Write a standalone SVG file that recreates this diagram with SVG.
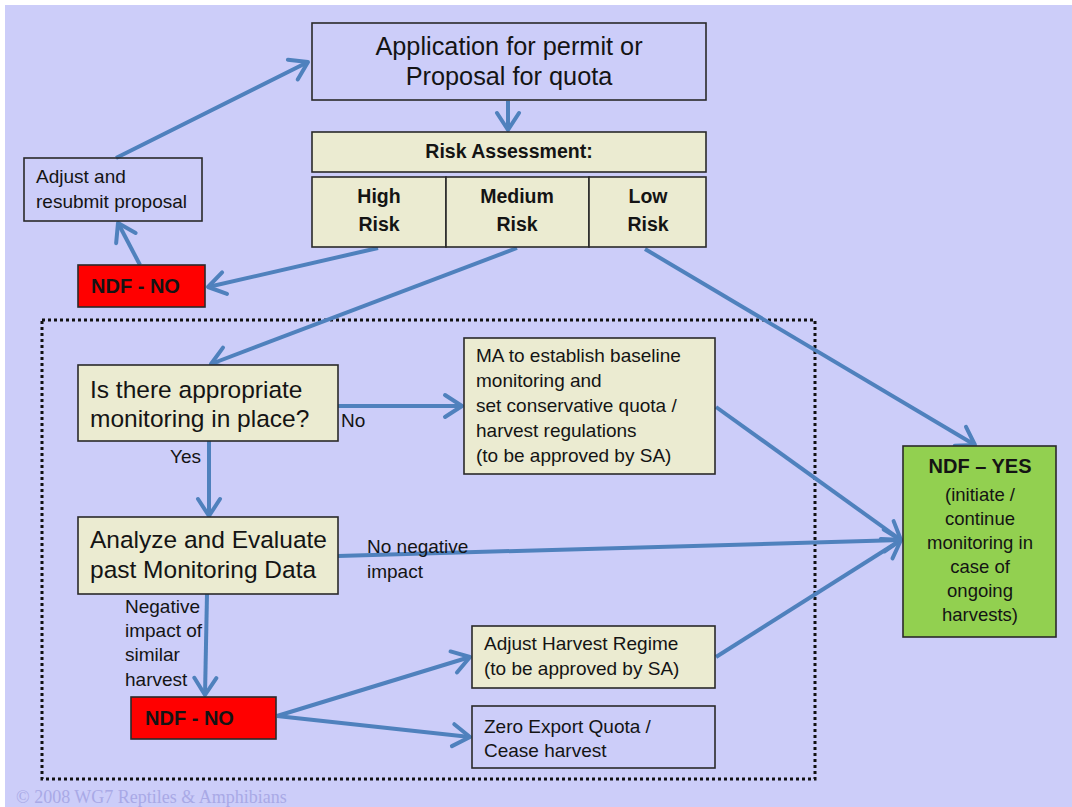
<svg xmlns="http://www.w3.org/2000/svg" width="1072" height="807" viewBox="0 0 1072 807">
<style>
.bg{fill:#cccdf9}
.box{stroke:#2a2a2a;stroke-width:1.6}
.plain{fill:none}
.beige{fill:#ebebd1}
.red{fill:#ff0000}
.green{fill:#92d050}
text{font-family:"Liberation Sans",Arial,sans-serif;fill:#141414}
.t24{font-size:24.5px}
.t25{font-size:25.3px}
.t18{font-size:19px}
.t18n{font-size:18.5px}
.b19{font-size:19.5px;font-weight:bold}
.b20{font-size:20px;font-weight:bold}
.mid{text-anchor:middle}
.conn{stroke:#4f81bd;stroke-width:4;fill:none;marker-end:url(#arr)}
.copy{font-family:"Liberation Serif","Times New Roman",serif;font-size:18px;fill:#a9a9e6}
</style>
<defs>
<marker id="arr" viewBox="-22 -14 26 28" refX="0" refY="0" markerWidth="26" markerHeight="28" markerUnits="userSpaceOnUse" orient="auto">
<path d="M-17,-11 L0,0 L-17,11" fill="none" stroke="#4f81bd" stroke-width="4" stroke-linecap="round" stroke-linejoin="round"/>
</marker>
</defs>
<rect x="0" y="0" width="1072" height="807" fill="#ffffff"/>
<rect class="bg" x="5" y="5" width="1067" height="802"/>
<rect x="42" y="320" width="773" height="459" fill="none" stroke="#111" stroke-width="3" stroke-dasharray="3 3"/>

<g id="connectors">
<line class="conn" x1="508" y1="101" x2="508" y2="130"/>
<line class="conn" x1="378" y1="248" x2="208" y2="287"/>
<line class="conn" x1="140" y1="265" x2="118" y2="223"/>
<line class="conn" x1="116" y1="158" x2="308" y2="62"/>
<line class="conn" x1="517" y1="248" x2="211" y2="364"/>
<line class="conn" x1="645" y1="249" x2="975" y2="445"/>
<line class="conn" x1="338" y1="406" x2="462" y2="406"/>
<line class="conn" x1="209" y1="441" x2="209" y2="516"/>
<line class="conn" x1="338" y1="556" x2="901" y2="540"/>
<line class="conn" x1="716" y1="407" x2="901" y2="540"/>
<line class="conn" x1="716" y1="657" x2="901" y2="540"/>
<line class="conn" x1="207" y1="594" x2="205" y2="695"/>
<line class="conn" x1="277" y1="716" x2="470" y2="657"/>
<line class="conn" x1="277" y1="716" x2="470" y2="737"/>
</g>

<g id="application">
<rect class="box plain" x="312" y="23" width="394" height="77"/>
<text class="t25 mid" x="509" y="55">Application for permit or</text>
<text class="t25 mid" x="509" y="85">Proposal for quota</text>
</g>

<g id="risk-assessment">
<rect class="box beige" x="312" y="132" width="394" height="40"/>
<text class="b19 mid" x="509" y="158">Risk Assessment:</text>
</g>

<g id="high-risk">
<rect class="box beige" x="312" y="177" width="134" height="70"/>
<text class="b19 mid" x="379" y="203">High</text>
<text class="b19 mid" x="379" y="231">Risk</text>
</g>
<g id="medium-risk">
<rect class="box beige" x="446" y="177" width="143" height="70"/>
<text class="b19 mid" x="517" y="203">Medium</text>
<text class="b19 mid" x="517" y="231">Risk</text>
</g>
<g id="low-risk">
<rect class="box beige" x="589" y="177" width="117" height="70"/>
<text class="b19 mid" x="648" y="203">Low</text>
<text class="b19 mid" x="648" y="231">Risk</text>
</g>

<g id="adjust-resubmit">
<rect class="box plain" x="24" y="158" width="178" height="63"/>
<text class="t18" x="36" y="183">Adjust and</text>
<text class="t18" x="36" y="208">resubmit proposal</text>
</g>

<g id="ndf-no-top">
<rect class="box red" x="78" y="265" width="127" height="42"/>
<text class="b20" x="91" y="293">NDF - NO</text>
</g>

<g id="monitoring-question">
<rect class="box beige" x="78" y="365" width="260" height="76"/>
<text class="t24" x="90" y="398">Is there appropriate</text>
<text class="t24" x="90" y="427">monitoring in place?</text>
</g>
<text class="t18" x="341" y="427">No</text>
<text class="t18" x="170" y="463">Yes</text>

<g id="ma-baseline">
<rect class="box beige" x="464" y="338" width="251" height="136"/>
<text class="t18" x="476" y="362">MA to establish baseline</text>
<text class="t18" x="476" y="387">monitoring and</text>
<text class="t18" x="476" y="412">set conservative quota /</text>
<text class="t18" x="476" y="437">harvest regulations</text>
<text class="t18" x="476" y="462">(to be approved by SA)</text>
</g>

<g id="analyze">
<rect class="box beige" x="78" y="517" width="260" height="77"/>
<text class="t24" x="90" y="548">Analyze and Evaluate</text>
<text class="t24" x="90" y="578">past Monitoring Data</text>
</g>
<text class="t18" x="367" y="553">No negative</text>
<text class="t18" x="367" y="578">impact</text>

<text class="t18" x="125" y="613">Negative</text>
<text class="t18" x="125" y="637">impact of</text>
<text class="t18" x="125" y="661">similar</text>
<text class="t18" x="125" y="686">harvest</text>

<g id="ndf-no-bottom">
<rect class="box red" x="131" y="697" width="145" height="42"/>
<text class="b20" x="145" y="725">NDF - NO</text>
</g>

<g id="adjust-harvest">
<rect class="box beige" x="472" y="626" width="243" height="62"/>
<text class="t18" x="484" y="650">Adjust Harvest Regime</text>
<text class="t18" x="484" y="675">(to be approved by SA)</text>
</g>

<g id="zero-export">
<rect class="box plain" x="472" y="706" width="243" height="62"/>
<text class="t18" x="484" y="733">Zero Export Quota /</text>
<text class="t18" x="484" y="757">Cease harvest</text>
</g>

<g id="ndf-yes">
<rect class="box green" x="903" y="446" width="153" height="191"/>
<text class="b20 mid" x="980" y="473">NDF – YES</text>
<text class="t18n mid" x="980" y="501">(initiate /</text>
<text class="t18n mid" x="980" y="525">continue</text>
<text class="t18n mid" x="980" y="549">monitoring in</text>
<text class="t18n mid" x="980" y="573">case of</text>
<text class="t18n mid" x="980" y="597">ongoing</text>
<text class="t18n mid" x="980" y="621">harvests)</text>
</g>

<text class="copy" x="16" y="803">© 2008 WG7 Reptiles &amp; Amphibians</text>
</svg>
